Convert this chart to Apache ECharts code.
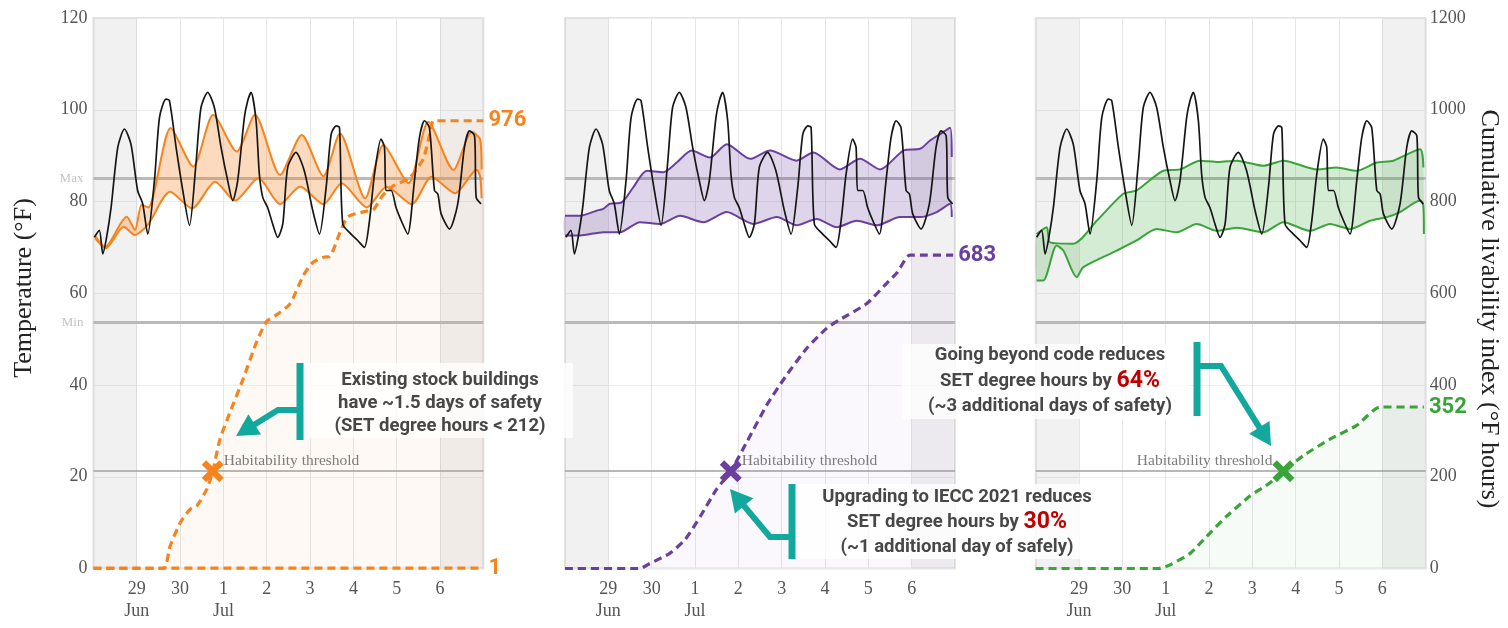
<!DOCTYPE html>
<html><head><meta charset="utf-8">
<script src="https://cdn.jsdelivr.net/npm/echarts@6/dist/echarts.min.js"></script>
<style>html,body{margin:0;padding:0;background:#fff}#c{width:1508px;height:628px}</style>
</head><body><div id="c"></div>
<script>
// ---------------- DATA (x = hours since Jun 28 00:00) ----------------
const xTickLabels = ['', '29\nJun', '30', '1\nJul', '2', '3', '4', '5', '6', ''];
const tempTicks = [0, 20, 40, 60, 80, 100, 120];
const cumTicks = [0, 200, 400, 600, 800, 1000, 1200];

const outdoorTemp = [[0.5,72.2],[3.3,73.7],[5.2,68.6],[7.3,72.2],[9.8,78.7],[13.5,91.8],[17.2,95.8],[20.8,92.5],[24.5,82.4],[27.3,79.5],[30.1,72.9],[33.8,84.5],[36.6,98.3],[40.2,102.3],[42.1,102],[45.8,91.8],[49.5,82.4],[53.2,74.8],[56.8,88.2],[59.6,100.5],[63.3,103.8],[67,100.5],[70.7,91.8],[74.4,84.5],[77.2,80.2],[79.9,84.5],[83.6,98.3],[85.5,102],[87.3,103.8],[90.1,97.6],[91.9,86],[93.8,80.9],[96.5,78.7],[99.3,75.1],[102.1,72.2],[104.9,75.1],[107.6,87.4],[112.2,90.7],[116.8,86.7],[121.5,78],[125.2,72.9],[128.9,83.1],[131.7,94.7],[134.5,96.5],[136.3,96.1],[138.1,75.1],[142.7,72.9],[146.4,71.5],[150.1,70],[152.9,75.8],[155.7,86],[159.3,93.6],[161.2,91.8],[162.1,82.4],[164.9,82.4],[167.6,78.7],[171.3,75.1],[174.1,72.9],[177.8,84.5],[180.6,94],[183.4,97.6],[186.1,96.1],[188.9,82.4],[190.8,81.6],[192.6,77.3],[197.2,74],[201.8,79.5],[205.5,91.8],[208.3,95.4],[211.1,94.3],[212,80.9],[214.7,79.5]];

const existingUpper = [[0.9,72.5],[6.4,70.1],[18.4,76.7],[23,73.8],[26.7,79.3],[30.4,78.7],[42.8,96],[55.3,87.6],[66.4,98.9],[79.4,90.9],[89.5,98.9],[103.4,85.8],[115.4,94.5],[127.4,85.5],[136.6,94.8],[150.5,80.7],[160.6,92.3],[174.5,84],[185.5,97.4],[199.4,86.9],[209.6,95.2],[214.2,93.5],[215,87]];
const existingLower = [[0.9,72],[6.8,69.8],[16.8,74.5],[23,72.7],[30.1,74.9],[42.5,82.1],[54.6,78.5],[67.4,84.3],[78.5,80.2],[91.4,85.1],[103.4,79.4],[114.5,83.2],[127.4,79.4],[137.5,84],[151.4,78.7],[162.4,83.2],[176.3,79.4],[187.3,85.4],[200.3,81.8],[212.3,86.9],[214.2,85.4],[215,80.7]];
const existingCum = [[0,0],[38.7,0],[42.4,48],[48,99],[53.5,129],[57.2,136],[62.8,173],[66.1,212],[70.1,282],[75.7,341],[83,414],[90.5,495],[96,539],[101.5,553],[108.9,577],[116.3,639],[121.8,668],[128,679],[131,680],[136.6,733],[141,767],[150,778],[155,782],[160,812],[166,834],[175,851],[182.7,893],[186.5,950],[188.5,976],[216,976]];
const existingCumLow = [[0,1],[216,1]];

const ieccUpper = [[0,76.9],[8.3,76.9],[17.5,78],[21.2,78.4],[24.9,79.5],[31.4,79.8],[37.8,83.1],[45.3,86.7],[54.5,86.4],[61.9,88.5],[70.2,91.1],[80.3,89.6],[89.6,92.5],[102.5,89.3],[113.6,91.1],[128.3,88.9],[137.5,90.7],[152.3,87],[163.4,89.3],[174.5,87],[187.4,91.1],[196.7,91.5],[202.2,93.3],[207.8,94.7],[213.3,96.1],[214.2,89.7]];
const ieccLower = [[0,72.6],[8.3,72.6],[21.2,73.3],[30.5,73.3],[41.5,75.5],[52.6,75.1],[63.7,76.9],[76.6,75.5],[89.6,77.7],[104.3,75.1],[117.3,76.6],[128.3,74.8],[139.4,76.2],[150.5,74.4],[161.6,75.8],[172.7,74.8],[185.6,76.6],[196.7,76.6],[205.9,77.7],[213.3,79.5],[214.2,76.6]];
const ieccCum = [[0,0],[41.5,0],[47,11],[58,33],[66.5,63],[75,114],[84,173],[91.8,212],[100.6,275],[111.7,356],[122.8,422],[133.9,480],[145,524],[152,542],[167,577],[178,621],[184,645],[191,683],[215,683]];

const beyondUpper = [[0.5,72.9],[6.1,74.4],[7.9,71.1],[20.8,70.8],[33.8,75.8],[48.5,81.7],[55.9,82.4],[70.7,86.7],[79.9,87],[91,88.9],[101,88.6],[111.3,88.9],[126.1,87.8],[137.2,88.9],[155.7,87],[166.7,87.4],[177.8,86.7],[188.9,88.5],[198.1,88.9],[212.9,91.4],[214.7,87.4]];
const beyondLower = [[0.5,62.8],[4.2,62.8],[11.6,70.4],[15.3,69.3],[22.7,63.5],[26.4,65.7],[44.9,69.3],[55.9,71.5],[67,74],[78.1,73.3],[89.2,75.1],[100.3,73.6],[111.3,74.3],[126.1,73.3],[137.2,75.5],[152,73.6],[163,75.1],[174.1,74],[185.2,75.8],[194.4,76.6],[201.8,77.7],[212.9,80.2],[214.7,79.1],[215,72.9]];
const beyondCum = [[0,0],[67.9,0],[74.4,8],[85.5,33],[94.7,70],[105.8,114],[118.7,158],[129.8,187],[137.2,212],[148.2,246],[163,282],[177.8,312],[190.7,352],[215,352]];

const maxLimit = 85, minLimit = 53.6, threshold = 212;
const crossingHours = [66.1, 91.8, 137.2];
const finalValues = [976, 683, 352];

// ---------------- STYLE ----------------
const SANS = 'Roboto, "Open Sans", sans-serif';
const SERIF = '"Liberation Serif", "DejaVu Serif", serif';
const TEAL = '#13a89e';
const panels = [
  {left: 93.4, color: '#f5841f', band: 'rgba(245,140,50,0.32)', cumFill: 'rgba(245,150,60,0.08)', upper: existingUpper, lower: existingLower, cum: existingCum, side: 'right'},
  {left: 565, color: '#6a3f9e', band: 'rgba(106,63,158,0.22)', cumFill: 'rgba(106,63,158,0.05)', upper: ieccUpper, lower: ieccLower, cum: ieccCum, side: 'right'},
  {left: 1035.7, color: '#3aa43a', band: 'rgba(58,164,58,0.22)', cumFill: 'rgba(58,164,58,0.06)', upper: beyondUpper, lower: beyondLower, cum: beyondCum, side: 'left'}
];
const X_SYMBOL = 'path://M2,0 L5,3 L8,0 L10,2 L7,5 L10,8 L8,10 L5,7 L2,10 L0,8 L3,5 L0,2 Z';

const grids = [], xAxes = [], yAxes = [], series = [];
panels.forEach((p, i) => {
  grids.push({left: p.left, top: 18, width: 390, height: 550.5, show: true, borderColor: '#e3e3e3', borderWidth: 2, backgroundColor: 'transparent'});
  xAxes.push({type: 'value', gridIndex: i, min: 0, max: 216, interval: 24,
    axisLine: {show: false}, axisTick: {show: false},
    splitLine: {show: true, lineStyle: {color: '#e6e6e6', width: 1}},
    axisLabel: {formatter: v => xTickLabels[Math.round(v / 24)] || '', color: '#555', fontFamily: SERIF, fontSize: 18, lineHeight: 22, margin: 10}});
  yAxes.push({type: 'value', gridIndex: i, min: tempTicks[0], max: tempTicks[tempTicks.length - 1], interval: 20, position: 'left',
    axisLine: {show: false}, axisTick: {show: false},
    splitLine: {show: true, lineStyle: {color: '#ededed'}},
    axisLabel: {show: i === 0, formatter: v => String(v), color: '#555', fontFamily: SERIF, fontSize: 18, margin: 6}});
  yAxes.push({type: 'value', gridIndex: i, min: cumTicks[0], max: cumTicks[cumTicks.length - 1], interval: 200, position: 'right',
    axisLine: {show: false}, axisTick: {show: false}, splitLine: {show: false},
    axisLabel: {show: i === 2, formatter: v => String(v), color: '#555', fontFamily: SERIF, fontSize: 18, margin: 4, align: 'left'}});
  const yL = 2 * i, yR = 2 * i + 1;
  // shading + reference lines
  series.push({type: 'line', xAxisIndex: i, yAxisIndex: yL, data: [], silent: true,
    markArea: {silent: true, z: 0, itemStyle: {color: 'rgba(0,0,0,0.055)'}, data: [[{xAxis: 0}, {xAxis: 24}], [{xAxis: 192}, {xAxis: 216}]]},
    markLine: {silent: true, z: 1, symbol: ['none', 'none'], lineStyle: {color: '#b9b9b9', width: 3, type: 'solid'},
      label: {show: i === 0, position: 'start', color: '#c4c4c4', fontFamily: SERIF, fontSize: 13, distance: 10},
      data: [{yAxis: maxLimit, label: {formatter: 'Max'}}, {yAxis: minLimit, label: {formatter: 'Min'}}]}});
  series.push({type: 'line', xAxisIndex: i, yAxisIndex: yR, data: [], silent: true,
    markLine: {silent: true, z: 1, symbol: ['none', 'none'], lineStyle: {color: '#a0a0a0', width: 1.6, type: 'solid'}, label: {show: false},
      data: [{yAxis: threshold}]}});
  // band fill
  series.push({type: 'custom', xAxisIndex: i, yAxisIndex: yL, data: [[0, 0]], silent: true, z: 2,
    renderItem: (params, api) => {
      const pts = p.upper.map(d => api.coord(d)).concat(p.lower.slice().reverse().map(d => api.coord(d)));
      return {type: 'polygon', shape: {points: pts, smooth: 0.25}, style: {fill: p.band}};
    }});
  // cumulative area + dashed line
  series.push({type: 'line', xAxisIndex: i, yAxisIndex: yR, data: p.cum, showSymbol: false, smooth: 0.2, z: 3, silent: true,
    lineStyle: {color: p.color, width: 3.2, type: [8, 5]}, areaStyle: {color: p.cumFill},
    endLabel: {show: true, formatter: String(finalValues[i]), color: p.color, fontSize: 22, fontWeight: 'bold', fontFamily: SANS, distance: 5}});
  if (i === 0) {
    series.push({type: 'line', xAxisIndex: i, yAxisIndex: yR, data: existingCumLow, showSymbol: false, z: 3, silent: true,
      lineStyle: {color: p.color, width: 3.2, type: [8, 5]},
      endLabel: {show: true, formatter: '1', color: p.color, fontSize: 22, fontWeight: 'bold', fontFamily: SANS, distance: 5}});
  }
  // band edges
  [p.upper, p.lower].forEach(d => series.push({type: 'line', xAxisIndex: i, yAxisIndex: yL, data: d, showSymbol: false, smooth: 0.25, z: 4, silent: true,
    lineStyle: {color: p.color, width: 2}}));
  // outdoor temperature
  series.push({type: 'line', xAxisIndex: i, yAxisIndex: yL, data: outdoorTemp, showSymbol: false, smooth: 0.25, z: 5, silent: true,
    lineStyle: {color: '#161616', width: 1.7}});
  // threshold crossing marker
  series.push({type: 'scatter', xAxisIndex: i, yAxisIndex: yR, data: [[crossingHours[i], threshold]], symbol: X_SYMBOL, symbolSize: 22, z: 6, silent: true,
    itemStyle: {color: p.color, opacity: 1},
    label: {show: true, formatter: 'Habitability threshold', position: p.side, distance: 0, offset: [0, -10], color: '#7c7c7c', fontFamily: SERIF, fontSize: 15.5}});
});

// ---------------- ANNOTATIONS ----------------
const txtBase = {fill: '#474747', fontSize: 18.5, fontWeight: 'bold', fontFamily: SANS, align: 'center', verticalAlign: 'middle'};
function annoText(x, y, text) {
  return {type: 'text', z: 100, x: x, y: y, style: Object.assign({}, txtBase, {text: text, rich: {r: {fill: '#c00000', fontSize: 23, fontWeight: 'bold', fontFamily: SANS}}})};
}
function box(x, y, w, h) { return {type: 'rect', z: 99, shape: {x: x, y: y, width: w, height: h}, style: {fill: 'rgba(255,255,255,0.8)'}}; }
function bracket(barX, y1, y2, elbow, tip) {
  const out = [{type: 'rect', z: 101, shape: {x: barX - 3.5, y: y1, width: 7, height: y2 - y1}, style: {fill: TEAL}}];
  const last = elbow[elbow.length - 1];
  const dx = tip[0] - last[0], dy = tip[1] - last[1], L = Math.hypot(dx, dy), ux = dx / L, uy = dy / L;
  const hl = 22, hw = 24;
  const bx = tip[0] - ux * hl, by = tip[1] - uy * hl, px = -uy, py = ux;
  out.push({type: 'polyline', z: 101, shape: {points: [[barX, elbow[0][1]]].concat(elbow).concat([[bx + ux * 3, by + uy * 3]])}, style: {stroke: TEAL, lineWidth: 6, fill: null, lineJoin: 'miter'}});
  out.push({type: 'polygon', z: 101, shape: {points: [tip, [bx + px * hw / 2, by + py * hw / 2], [bx - px * hw / 2, by - py * hw / 2]]}, style: {fill: TEAL}});
  return out;
}

const graphics = [
  box(301, 363, 272, 75),
  annoText(440, 380, 'Existing stock buildings'),
  annoText(440, 403, 'have ~1.5 days of safety'),
  annoText(440, 426, '(SET degree hours < 212)'),
  ...bracket(300, 363, 440, [[278, 410]], [236, 436]),

  box(790, 484, 310, 75),
  annoText(957, 497, 'Upgrading to IECC 2021 reduces'),
  annoText(957, 522, 'SET degree hours by {r|30%}'),
  annoText(957, 547, '(~1 additional day of safely)'),
  ...bracket(792, 484, 559, [[770, 537]], [730, 489]),

  box(902, 344, 288, 75),
  annoText(1050, 355, 'Going beyond code reduces'),
  annoText(1050, 381, 'SET degree hours by {r|64%}'),
  annoText(1050, 406, '(~3 additional days of safety)'),
  ...bracket(1197, 342, 416, [[1221, 366]], [1271, 446]),

  {type: 'text', z: 100, x: 24, y: 288, rotation: Math.PI / 2, style: {text: 'Temperature (°F)', fill: '#222', fontSize: 26, fontFamily: SERIF, align: 'center', verticalAlign: 'middle'}},
  {type: 'text', z: 100, x: 1489, y: 309, rotation: -Math.PI / 2, style: {text: 'Cumulative livability index (°F hours)', fill: '#222', fontSize: 26, fontFamily: SERIF, align: 'center', verticalAlign: 'middle'}}
];

const chart = echarts.init(document.getElementById('c'), null, {renderer: 'canvas'});
chart.setOption({
  animation: false,
  backgroundColor: '#ffffff',
  grid: grids, xAxis: xAxes, yAxis: yAxes, series: series,
  graphic: graphics
});
</script>
</body></html>
